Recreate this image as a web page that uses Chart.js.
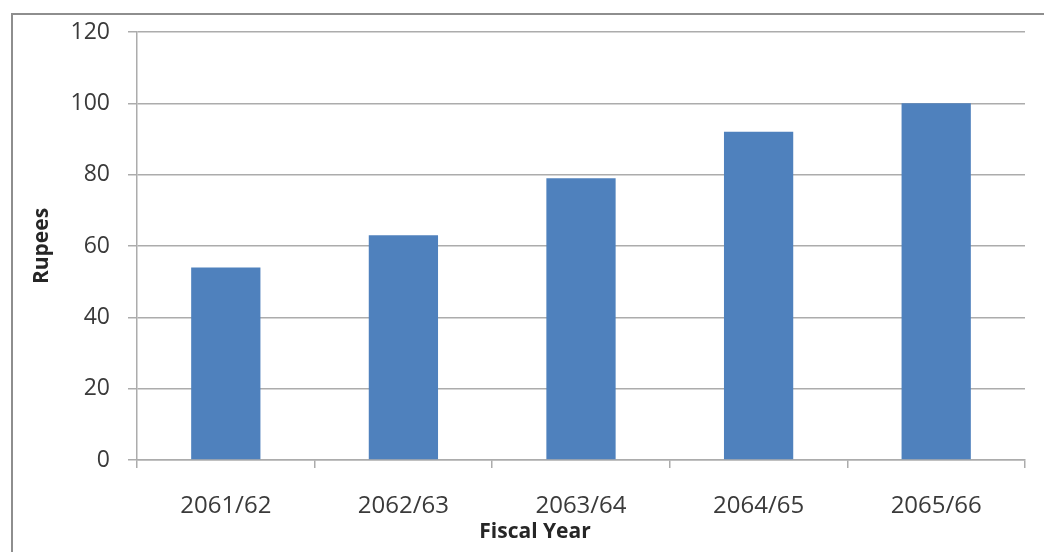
<!DOCTYPE html>
<html>
<head>
    <meta charset="UTF-8">
    <title>Rupees by Fiscal Year</title>
    <script src="https://cdn.jsdelivr.net/npm/chart.js@4/dist/chart.umd.min.js"></script>
    <style type="text/css">
        body { margin: 0; background: #fff; overflow: hidden; }
        #frame {
            position: absolute; left: 11px; top: 13px;
            width: 1100px; height: 600px;
            border-left: 2px solid #8e8e8e; border-top: 2px solid #8e8e8e;
        }
        #wrap { position: absolute; left: 0; top: 0; width: 1044px; height: 552px; }
    </style>
</head>
<body>
<div id="frame"></div>
<div id="wrap">
    <canvas id="rupeesChart" width="1044" height="552"></canvas>
</div>

<script>
    const years = ['2061/62', '2062/63', '2063/64', '2064/65', '2065/66'];
    const rupees = [54, 63, 79, 92, 100];
    const yTicks = [0, 20, 40, 60, 80, 100, 120];
    const xTitle = 'Fiscal Year';
    const yTitle = 'Rupees';

    const gridGrey = '#acacac';
    const textGrey = '#3a3a3a';

    // x caption sits centred under the whole frame rather than under the plot
    const xCaption = {
        id: 'xCaption',
        afterDraw(chart) {
            const ctx = chart.ctx;
            ctx.save();
            ctx.font = 'bold 21px "Open Sans"';
            ctx.fillStyle = '#262626';
            ctx.textAlign = 'center';
            ctx.textBaseline = 'middle';
            ctx.fillText(xTitle, 535, 532);
            ctx.restore();
        }
    };

    const ctx = document.getElementById('rupeesChart').getContext('2d');
    new Chart(ctx, {
        type: 'bar',
        data: {
            labels: years,
            datasets: [{
                label: yTitle,
                data: rupees,
                backgroundColor: '#4f81bd',
                borderWidth: 0,
                categoryPercentage: 1,
                barPercentage: 0.39
            }]
        },
        options: {
            responsive: false,
            animation: false,
            layout: { padding: { left: 0, top: 32, right: 19, bottom: 0 } },
            plugins: {
                legend: { display: false },
                tooltip: { enabled: false }
            },
            scales: {
                x: {
                    offset: true,
                    grid: {
                        offset: true,
                        drawOnChartArea: false,
                        tickLength: 8,
                        color: gridGrey,
                        lineWidth: 1.5
                    },
                    border: { color: gridGrey, width: 1.5 },
                    ticks: {
                        padding: 24,
                        color: textGrey,
                        font: { family: 'Open Sans', size: 24 }
                    },
                    afterFit(scale) { scale.height = 92; }
                },
                y: {
                    min: 0,
                    max: 120,
                    afterBuildTicks(scale) {
                        scale.ticks = yTicks.map(v => ({ value: v }));
                    },
                    grid: {
                        tickLength: 9,
                        color: gridGrey,
                        lineWidth: 1.5
                    },
                    border: { color: gridGrey, width: 1.5 },
                    ticks: {
                        padding: 18,
                        color: textGrey,
                        font: { family: 'Open Sans', size: 23 }
                    },
                    title: {
                        display: true,
                        text: yTitle,
                        color: '#262626',
                        padding: { top: 29, bottom: 4 },
                        font: { family: 'Open Sans', size: 21, weight: 'bold' }
                    },
                    afterFit(scale) { scale.width = 137; }
                }
            }
        },
        plugins: [xCaption]
    });
</script>
</body>
</html>
